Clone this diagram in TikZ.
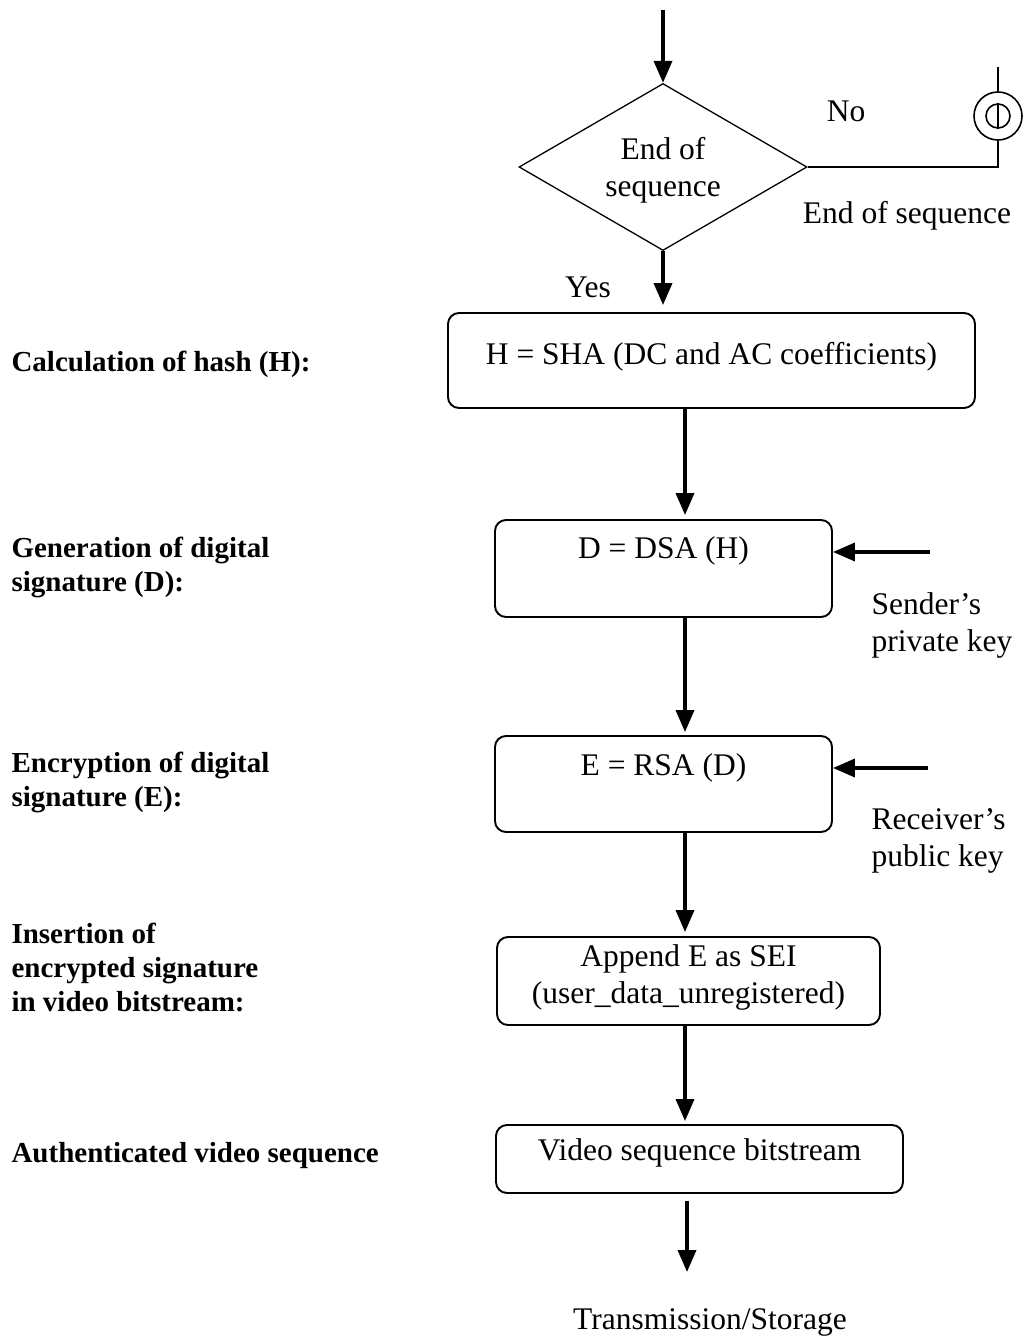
\documentclass[tikz,border=0pt]{standalone}
\usepackage{fontspec}
\setmainfont{Liberation Serif}
\usetikzlibrary{shapes.geometric,arrows.meta}
\begin{document}
\begin{tikzpicture}[x=1pt,y=-1pt,
  every node/.style={font=\fontsize{31.5}{37}\selectfont},
  stepbox/.style={draw,line width=1.9pt,rounded corners=11pt,inner sep=0pt},
  decision/.style={draw,line width=1.3pt,diamond,aspect=1.72,inner sep=0pt,
    minimum width=288pt,minimum height=167pt},
  sidelabel/.style={anchor=west,align=left,font=\fontsize{29}{34}\selectfont\bfseries},
  keylabel/.style={anchor=west,align=left},
  flow/.style={line width=3.6pt,-{Triangle[length=22pt,width=18pt]}},
  thin/.style={line width=1.6pt}]
\useasboundingbox (0,0) rectangle (1026,1343);

% decision
\coordinate (start) at (663,10);
\node[decision] (dec) at (663,167) {};
\node[align=center] (dect) at (663,170) {End of\\sequence};
\draw[flow] (start) -- (dec.north);

% off-page connector on the "No" branch
\node[draw,thin,circle,minimum size=48pt,inner sep=0pt] (conn) at (998,116) {};
\node[draw,thin,circle,minimum size=24pt,inner sep=0pt] (conni) at (998,116) {};
\draw[thin] (conni.north) -- (conni.south);
\coordinate (conntop) at (998,67);
\draw[thin] (conn.north) -- (conntop);
\draw[thin] (dec.east) -| (conn.south);
\node (no) at (846,111) {No};
\node (eos) at (907,216) {End of sequence};
\node (yes) at (588,287) {Yes};

% process boxes
\node[stepbox,minimum width=527pt,minimum height=95pt] (b1) at (711.5,360.5) {};
\node (t1) at (711.5,357) {H = SHA (DC and AC coefficients)};
\node[stepbox,minimum width=337pt,minimum height=97pt] (b2) at (663.5,568.5) {};
\node (t2) at (663.5,551) {D = DSA (H)};
\node[stepbox,minimum width=337pt,minimum height=96pt] (b3) at (663.5,784) {};
\node (t3) at (663.5,768) {E = RSA (D)};
\node[stepbox,minimum width=383pt,minimum height=88pt] (b4) at (688.5,981) {};
\node[align=center] (t4) at (688.5,977) {Append E as SEI\\(user\_data\_unregistered)};
\node[stepbox,minimum width=407pt,minimum height=68pt] (b5) at (699.5,1159) {};
\node (t5) at (699.5,1153) {Video sequence bitstream};

% main flow
\coordinate (col) at (685,0);
\draw[flow,shorten >=7pt] (dec.south) -- (dec.south |- b1.north);
\draw[flow,shorten >=4pt] (col |- b1.south) -- (col |- b2.north);
\draw[flow,shorten >=3pt] (col |- b2.south) -- (col |- b3.north);
\draw[flow,shorten >=4pt] (col |- b3.south) -- (col |- b4.north);
\draw[flow,shorten >=3pt] (col |- b4.south) -- (col |- b5.north);
\coordinate (out) at (687,1272);
\draw[flow,shorten <=7pt] (out |- b5.south) -- (out);
\node (ts) at (710,1322) {Transmission/Storage};

% key inputs
\coordinate (k1) at (930,552);
\coordinate (k2) at (928,768);
\draw[flow] (k1) -- (b2.east |- k1);
\draw[flow] (k2) -- (b3.east |- k2);
\node[keylabel] (sk) at (868,625) {Sender’s\\private key};
\node[keylabel] (rk) at (868,841) {Receiver’s\\public key};

% stage descriptions
\node[sidelabel] (s1) at (8,364) {Calculation of hash (H):};
\node[sidelabel] (s2) at (8,567) {Generation of digital\\signature (D):};
\node[sidelabel] (s3) at (8,782) {Encryption of digital\\signature (E):};
\node[sidelabel] (s4) at (8,967) {Insertion of\\encrypted signature\\in video bitstream:};
\node[sidelabel] (s5) at (8,1156) {Authenticated video sequence};
\end{tikzpicture}
\end{document}
